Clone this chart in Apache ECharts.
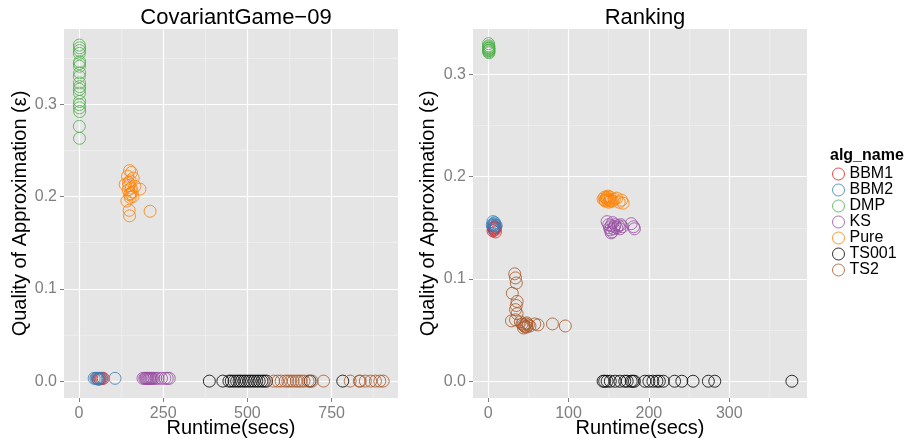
<!DOCTYPE html>
<html>
<head>
<meta charset="utf-8">
<script src="https://cdn.jsdelivr.net/npm/echarts@6/dist/echarts.min.js"></script>
<style>
html, body { margin: 0; padding: 0; background: #fff; }
#main { width: 908px; height: 441px; }
</style>
</head>
<body>
<div id="main"></div>
<script>
// algorithm names and colours
var algNames = ['BBM1', 'BBM2', 'DMP', 'KS', 'Pure', 'TS001', 'TS2'];
var algColors = ['#E41A1C', '#377EB8', '#4DAF4A', '#984EA3', '#FF7F00', '#000000', '#A65628'];

// tick labels
var xTicksLeft = [0, 250, 500, 750];
var xMinorLeft = [125, 375, 625, 875];
var xTicksRight = [0, 100, 200, 300];
var xMinorRight = [50, 150, 250, 350];
var yTicks = [0, 0.1, 0.2, 0.3];
var yMinorLeft = [0.05, 0.15, 0.25, 0.35];
var yMinorRight = [0.05, 0.15, 0.25];

// CovariantGame-09 : [runtime, epsilon]
var cgBBM1 = [[55, 0.003], [60, 0.003], [63, 0.0025], [68, 0.003], [72, 0.003], [58, 0.002]];
var cgBBM2 = [[45, 0.003], [50, 0.003], [53, 0.003], [57, 0.0025], [62, 0.003], [66, 0.003], [107, 0.003]];
var cgDMP = [[1, 0.364], [2, 0.361], [1.5, 0.358], [1, 0.355], [2, 0.346], [1, 0.344], [1.5, 0.341],
    [2, 0.334], [1, 0.330], [1.5, 0.323], [2, 0.319], [1, 0.316], [1.5, 0.312], [2, 0.303],
    [1, 0.2995], [1.5, 0.296], [2, 0.292], [1, 0.276], [1.5, 0.263]];
var cgKS = [[190, 0.003], [195, 0.003], [198, 0.003], [200, 0.003], [203, 0.003], [205, 0.003],
    [208, 0.003], [210, 0.003], [213, 0.003], [215, 0.003], [218, 0.003], [222, 0.003],
    [228, 0.003], [235, 0.003], [245, 0.003], [255, 0.003], [262, 0.003], [268, 0.003]];
var cgPure = [[150, 0.228], [156, 0.226], [144, 0.222], [161, 0.220], [152, 0.217], [137, 0.213],
    [147, 0.215], [166, 0.211], [155, 0.209], [146, 0.207], [158, 0.205], [181, 0.208],
    [150, 0.202], [160, 0.200], [152, 0.199], [142, 0.195], [149, 0.185], [150, 0.179],
    [211, 0.184], [148, 0.212], [154, 0.203]];
var cgTS001 = [[387, 0], [427, 0], [445, 0], [452, 0], [460, 0], [468, 0], [475, 0], [482, 0],
    [490, 0], [497, 0], [505, 0], [512, 0], [520, 0], [528, 0], [535, 0], [543, 0],
    [550, 0], [557, 0], [686, 0], [783, 0]];
var cgTS2 = [[578, 0], [590, 0], [600, 0], [612, 0], [620, 0], [628, 0], [636, 0], [645, 0],
    [652, 0], [660, 0], [668, 0], [680, 0], [692, 0], [726, 0], [805, 0], [832, 0],
    [835, 0], [850, 0], [866, 0], [880, 0], [893, 0], [903, 0]];

// Ranking : [runtime, epsilon]
var rkBBM1 = [[6, 0.152], [7, 0.150], [8, 0.148], [9, 0.146], [7, 0.149], [8, 0.151], [6, 0.147], [9, 0.150]];
var rkBBM2 = [[6, 0.156], [7, 0.154], [8, 0.153], [9, 0.152], [6, 0.150], [10, 0.152], [7, 0.148], [8, 0.155], [5, 0.153]];
var rkDMP = [[0.5, 0.330], [0.8, 0.328], [0.6, 0.327], [1, 0.326], [0.7, 0.325], [0.9, 0.324],
    [0.6, 0.323], [0.8, 0.322], [1, 0.321], [0.7, 0.3255], [0.9, 0.3235]];
var rkKS = [[148, 0.156], [150, 0.153], [151, 0.150], [152, 0.148], [153, 0.152], [154, 0.146],
    [155, 0.155], [156, 0.149], [157, 0.151], [158, 0.153], [160, 0.150], [162, 0.152],
    [164, 0.149], [165, 0.153], [167, 0.151], [178, 0.154], [182, 0.149], [181, 0.151], [153, 0.145]];
var rkPure = [[143, 0.178], [145, 0.180], [146, 0.176], [147, 0.179], [148, 0.177], [149, 0.181],
    [150, 0.175], [151, 0.178], [152, 0.180], [153, 0.177], [155, 0.176], [157, 0.178],
    [160, 0.179], [163, 0.175], [166, 0.177], [168, 0.174], [145, 0.177], [148, 0.180], [152, 0.176]];
var rkTS001 = [[143, 0], [145, 0], [148, 0], [152, 0], [158, 0], [164, 0], [170, 0], [173, 0],
    [178, 0], [180, 0], [182, 0], [195, 0], [200, 0], [205, 0], [210, 0], [213, 0],
    [218, 0], [232, 0], [241, 0], [255, 0], [274, 0], [282, 0], [378, 0]];
var rkTS2 = [[33, 0.105], [34, 0.101], [35, 0.096], [30, 0.086], [36, 0.078], [35, 0.074],
    [34, 0.070], [36, 0.066], [29, 0.059], [34, 0.060], [40, 0.058], [42, 0.056],
    [44, 0.055], [45, 0.054], [46, 0.053], [47, 0.056], [48, 0.057], [50, 0.055],
    [52, 0.054], [58, 0.056], [62, 0.055], [80, 0.056], [96, 0.054], [44, 0.052], [48, 0.053]];

var leftData = [cgBBM1, cgBBM2, cgDMP, cgKS, cgPure, cgTS001, cgTS2];
var rightData = [rkBBM1, rkBBM2, rkDMP, rkKS, rkPure, rkTS001, rkTS2];

var FONT = 'Liberation Sans, Arial, sans-serif';
var GREY = '#7F7F7F';

function majorAxis(gi, pos, min, max, ticks, fmt, name, gap, lblMargin) {
    return {
        type: 'value', gridIndex: gi, position: pos, min: min, max: max,
        name: name, nameLocation: 'middle', nameGap: gap, nameMoveOverlap: false,
        nameTextStyle: { fontSize: 20, color: '#000', fontFamily: FONT },
        axisLine: { show: false, onZero: false },
        axisTick: { show: true, length: 4, customValues: ticks, lineStyle: { color: GREY, width: 1 } },
        axisLabel: { customValues: ticks, fontSize: 16, color: GREY, fontFamily: FONT, margin: lblMargin,
            formatter: fmt },
        splitLine: { show: true, lineStyle: { color: '#FFFFFF', width: 1.2 } }
    };
}
function minorAxis(gi, pos, min, max, ticks) {
    return {
        type: 'value', gridIndex: gi, position: pos, min: min, max: max,
        axisLine: { show: false, onZero: false },
        axisTick: { show: false, customValues: ticks },
        axisLabel: { show: false, customValues: ticks },
        splitLine: { show: true, lineStyle: { color: '#F2F2F2', width: 0.6 } }
    };
}
var fmtX = function (v) { return String(v); };
var fmtY = function (v) { return v.toFixed(1); };

var series = [];
[leftData, rightData].forEach(function (panel, p) {
    panel.forEach(function (d, i) {
        series.push({
            name: algNames[i], type: 'scatter',
            xAxisIndex: p * 2 + 1, yAxisIndex: p * 2 + 1,
            symbol: 'circle', symbolSize: 12,
            itemStyle: { color: 'rgba(0,0,0,0)', borderColor: algColors[i], borderWidth: 1 },
            data: d
        });
    });
});

var option = {
    animation: false,
    backgroundColor: '#FFFFFF',
    title: [
        { text: 'CovariantGame\u221209', left: 231, top: 2, textAlign: 'center',
          textStyle: { fontSize: 22, fontWeight: 'normal', color: '#000', fontFamily: FONT } },
        { text: 'Ranking', left: 640, top: 2, textAlign: 'center',
          textStyle: { fontSize: 22, fontWeight: 'normal', color: '#000', fontFamily: FONT } }
    ],
    grid: [
        { left: 64, top: 29, width: 334, height: 369, backgroundColor: '#E5E5E5', show: true, borderWidth: 0,
          outerBoundsMode: 'none', containLabel: false },
        { left: 473, top: 29, width: 334, height: 369, backgroundColor: '#E5E5E5', show: true, borderWidth: 0,
          outerBoundsMode: 'none', containLabel: false }
    ],
    xAxis: [
        minorAxis(0, 'bottom', -44.5, 947, xMinorLeft),
        majorAxis(0, 'bottom', -44.5, 947, xTicksLeft, fmtX, 'Runtime(secs)', 20, 8),
        minorAxis(1, 'bottom', -18.9, 396.8, xMinorRight),
        majorAxis(1, 'bottom', -18.9, 396.8, xTicksRight, fmtX, 'Runtime(secs)', 20, 8)
    ],
    yAxis: [
        minorAxis(0, 'left', -0.0183, 0.3814, yMinorLeft),
        majorAxis(0, 'left', -0.0183, 0.3814, yTicks, fmtY, 'Quality of Approximation (\u03b5)', 34, 7),
        minorAxis(1, 'left', -0.0164, 0.3443, yMinorRight),
        majorAxis(1, 'left', -0.0164, 0.3443, yTicks, fmtY, 'Quality of Approximation (\u03b5)', 35, 7)
    ],
    legend: {
        orient: 'vertical', left: 832, top: 166, padding: 0,
        itemWidth: 12, itemHeight: 12, itemGap: 0,
        data: algNames,
        itemStyle: { borderWidth: 1 },
        textStyle: { fontSize: 16, lineHeight: 16, color: '#000', fontFamily: FONT }
    },
    graphic: [
        { type: 'text', left: 830, top: 148,
          style: { text: 'alg_name', fontSize: 16, fontWeight: 'bold', fill: '#000', fontFamily: FONT } }
    ],
    series: series
};

var myChart = echarts.init(document.getElementById('main'));
myChart.setOption(option);
</script>
</body>
</html>
